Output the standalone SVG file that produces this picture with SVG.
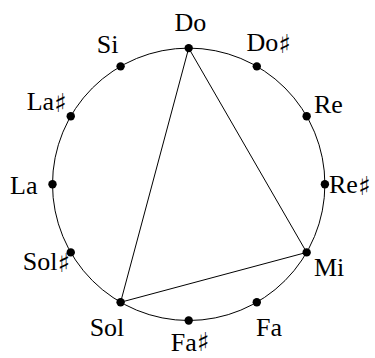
<svg xmlns="http://www.w3.org/2000/svg" width="375" height="358" viewBox="0 0 375 358">
<style>
.t{font-family:'Liberation Serif','Times New Roman',serif;font-size:26px;font-weight:400;fill:#000}
.s{font-family:'DejaVu Serif','DejaVu Sans',serif;font-size:26px;font-weight:400;fill:#000}
.dot{fill:#000}
.ln{stroke:#000;stroke-width:1;fill:none}
</style>
<rect width="375" height="358" fill="#fff"/>
<circle class="ln" cx="188.7" cy="184.3" r="136.2"/>
<g id="connectors">
<line class="ln" x1="188.7" y1="48.1" x2="306.65" y2="252.4"/>
<line class="ln" x1="188.7" y1="48.1" x2="120.6" y2="302.25"/>
<line class="ln" x1="120.6" y1="302.25" x2="306.65" y2="252.4"/>
</g>
<g id="Do"><circle class="dot" cx="188.7" cy="48.1" r="4.2"/><text class="t" x="190.3" y="31" text-anchor="middle">Do</text></g>
<g id="DoS"><circle class="dot" cx="256.8" cy="66.35" r="4.2"/><text class="t" x="246.5" y="51">Do<tspan class="s" dy="2">♯︎</tspan></text></g>
<g id="Re"><circle class="dot" cx="306.65" cy="116.2" r="4.2"/><text class="t" x="314" y="113">Re</text></g>
<g id="ReS"><circle class="dot" cx="324.9" cy="184.3" r="4.2"/><text class="t" x="329" y="193">Re<tspan class="s" dy="2">♯︎</tspan></text></g>
<g id="Mi"><circle class="dot" cx="306.65" cy="252.4" r="4.2"/><text class="t" x="314" y="276">Mi</text></g>
<g id="Fa"><circle class="dot" cx="256.8" cy="302.25" r="4.2"/><text class="t" x="256" y="335.5">Fa</text></g>
<g id="FaS"><circle class="dot" cx="188.7" cy="320.5" r="4.2"/><text class="t" x="190" y="351" text-anchor="middle">Fa<tspan class="s">♯︎</tspan></text></g>
<g id="Sol"><circle class="dot" cx="120.6" cy="302.25" r="4.2"/><text class="t" x="107" y="336" text-anchor="middle">Sol</text></g>
<g id="SolS"><circle class="dot" cx="70.75" cy="252.4" r="4.2"/><text class="t" x="70" y="270" text-anchor="end">Sol<tspan class="s" dy="2">♯︎</tspan></text></g>
<g id="La"><circle class="dot" cx="52.5" cy="184.3" r="4.2"/><text class="t" x="37.5" y="194" text-anchor="end">La</text></g>
<g id="LaS"><circle class="dot" cx="70.75" cy="116.2" r="4.2"/><text class="t" x="66.7" y="110" text-anchor="end">La<tspan class="s" dy="2">♯︎</tspan></text></g>
<g id="Si"><circle class="dot" cx="120.6" cy="66.35" r="4.2"/><text class="t" x="118.5" y="53.3" text-anchor="end">Si</text></g>
</svg>
